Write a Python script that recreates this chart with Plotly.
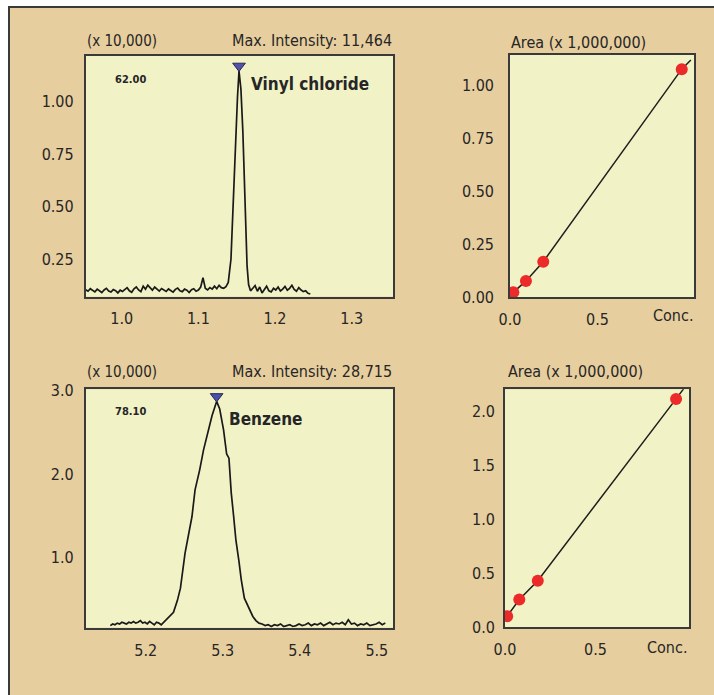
import plotly.graph_objects as go

# ---- Chromatogram: vinyl chloride (m/z 62.00), intensity in units of 10,000 ----
vc_time = [
    0.953, 0.956, 0.959, 0.962, 0.965, 0.968, 0.971, 0.974, 0.977, 0.980,
    0.983, 0.986, 0.989, 0.992, 0.995, 0.998, 1.001, 1.004, 1.007, 1.010,
    1.013, 1.016, 1.019, 1.022, 1.025, 1.028, 1.031, 1.034, 1.037, 1.040,
    1.043, 1.046, 1.049, 1.052, 1.055, 1.058, 1.061, 1.064, 1.067, 1.070,
    1.073, 1.076, 1.079, 1.082, 1.085, 1.088, 1.091, 1.094, 1.097, 1.100,
    1.103, 1.106, 1.109, 1.112, 1.115, 1.118, 1.121, 1.124, 1.127, 1.130,
    1.133, 1.136,
    1.139, 1.1425, 1.1445, 1.1465, 1.149, 1.151, 1.153, 1.1555, 1.158, 1.160,
    1.162, 1.1635, 1.1655, 1.168,
    1.171, 1.174, 1.177, 1.180, 1.183, 1.186, 1.189, 1.192, 1.195, 1.198,
    1.201, 1.204, 1.207, 1.210, 1.213, 1.216, 1.219, 1.222, 1.225, 1.228,
    1.231, 1.234, 1.237, 1.240, 1.243, 1.246,
]
vc_intensity = [
    0.105, 0.098, 0.110, 0.102, 0.095, 0.108, 0.100, 0.092, 0.104, 0.112,
    0.099, 0.094, 0.106, 0.101, 0.090, 0.103, 0.097, 0.108, 0.115, 0.100,
    0.093, 0.110, 0.118, 0.104, 0.096, 0.122, 0.108, 0.127, 0.112, 0.103,
    0.118, 0.106, 0.099, 0.111, 0.104, 0.097, 0.109, 0.102, 0.094, 0.107,
    0.113, 0.100, 0.096, 0.108, 0.103, 0.092, 0.105, 0.110, 0.098, 0.104,
    0.118, 0.162, 0.112, 0.104, 0.115, 0.108, 0.122, 0.110, 0.126, 0.115,
    0.112, 0.120,
    0.140, 0.250, 0.450, 0.620, 0.880, 1.020, 1.1464, 1.060, 0.860, 0.620,
    0.400, 0.220, 0.130, 0.100,
    0.112, 0.125, 0.098, 0.118, 0.090, 0.105, 0.122, 0.100, 0.095, 0.112,
    0.104, 0.118, 0.099, 0.108, 0.121, 0.103, 0.112, 0.126, 0.107, 0.098,
    0.115, 0.104, 0.096, 0.100, 0.088, 0.085,
]

# ---- Chromatogram: benzene (m/z 78.10), intensity in units of 10,000 ----
bz_time = [
    5.154, 5.157, 5.160, 5.163, 5.166, 5.169, 5.172, 5.175, 5.178, 5.181,
    5.184, 5.187, 5.190, 5.193, 5.196, 5.199, 5.202, 5.205, 5.208, 5.211,
    5.214, 5.217, 5.220, 5.223,
    5.227, 5.232, 5.236, 5.241, 5.245, 5.251, 5.256, 5.260, 5.264, 5.270,
    5.275, 5.281, 5.286, 5.292, 5.296, 5.301, 5.305, 5.308, 5.311, 5.314,
    5.317, 5.321, 5.324, 5.328, 5.333, 5.339, 5.343, 5.347,
    5.351, 5.355, 5.359, 5.363, 5.367, 5.371, 5.375, 5.379, 5.383, 5.387,
    5.391, 5.395, 5.399, 5.403, 5.407, 5.411, 5.415, 5.419, 5.423, 5.427,
    5.431, 5.435, 5.439, 5.443, 5.447, 5.451, 5.455, 5.459, 5.463, 5.467,
    5.471, 5.475, 5.479, 5.483, 5.487, 5.491, 5.495, 5.499, 5.503, 5.507,
    5.511,
]
bz_intensity = [
    0.18, 0.20, 0.19, 0.21, 0.20, 0.22, 0.21, 0.20, 0.22, 0.21,
    0.23, 0.21, 0.22, 0.24, 0.21, 0.22, 0.20, 0.23, 0.21, 0.19,
    0.22, 0.21, 0.19, 0.22,
    0.26, 0.30, 0.34, 0.48, 0.63, 1.05, 1.30, 1.49, 1.81, 2.05,
    2.29, 2.52, 2.70, 2.8715, 2.78, 2.53, 2.24, 2.19, 1.77, 1.50,
    1.21, 0.95, 0.73, 0.51, 0.40, 0.29, 0.24, 0.21,
    0.20, 0.18, 0.19, 0.17, 0.19, 0.18, 0.20, 0.17, 0.18, 0.19,
    0.17, 0.18, 0.20, 0.18, 0.19, 0.21, 0.18, 0.20, 0.19, 0.21,
    0.18, 0.20, 0.22, 0.19, 0.21, 0.20, 0.22, 0.19, 0.25, 0.20,
    0.21, 0.18, 0.20, 0.19, 0.21, 0.18, 0.19, 0.20, 0.22, 0.19,
    0.21,
]

# ---- Calibration points: concentration vs. peak area (x 1,000,000) ----
vc_conc = [0.019, 0.091, 0.190, 0.981]
vc_area = [0.022, 0.076, 0.167, 1.077]
vc_line_conc = [0.0] + vc_conc + [1.033]
vc_line_area = [0.0] + vc_area + [1.120]

bz_conc = [0.012, 0.079, 0.181, 0.945]
bz_area = [0.100, 0.255, 0.430, 2.116]
bz_line_conc = [0.0] + bz_conc + [1.000]
bz_line_area = [0.060] + bz_area + [2.240]

FONT = "Liberation Sans Narrow, DejaVu Sans Condensed, Arial Narrow, sans-serif"
TXT = "#262626"
TAN = "#E7CE9E"
PALE = "#F1F2C6"
FRAME = "#3A3A3A"
W, H = 714, 695


def px(x):
    return x / W


def py(y):
    return 1 - y / H


vc_peak_i = vc_intensity.index(max(vc_intensity))
bz_peak_i = bz_intensity.index(max(bz_intensity))

fig = go.Figure()

# chromatograms
fig.add_trace(go.Scatter(x=vc_time, y=vc_intensity, mode="lines",
                         line=dict(color="#1A1A1A", width=1.7), xaxis="x", yaxis="y"))
fig.add_trace(go.Scatter(x=bz_time, y=bz_intensity, mode="lines",
                         line=dict(color="#1A1A1A", width=1.7), xaxis="x3", yaxis="y3"))

# peak-top markers (apex of the triangle sits on the peak)
fig.add_trace(go.Scatter(x=[vc_time[vc_peak_i]], y=[vc_intensity[vc_peak_i] + 5 * (1.2175 - 0.072) / 240.7],
                         mode="markers", marker=dict(symbol="triangle-down", size=11, color="#5550A8",
                                                     line=dict(color="#2A2A50", width=1)),
                         xaxis="x", yaxis="y"))
fig.add_trace(go.Scatter(x=[bz_time[bz_peak_i]], y=[bz_intensity[bz_peak_i] + 5 * (3.017 - 0.155) / 238.4],
                         mode="markers", marker=dict(symbol="triangle-down", size=11, color="#4A50AE",
                                                     line=dict(color="#2A2A50", width=1)),
                         xaxis="x3", yaxis="y3"))

# calibration curves
fig.add_trace(go.Scatter(x=vc_line_conc, y=vc_line_area, mode="lines",
                         line=dict(color="#1E1E1E", width=1.5), xaxis="x2", yaxis="y2"))
fig.add_trace(go.Scatter(x=vc_conc, y=vc_area, mode="markers",
                         marker=dict(size=12, color="#EC2A2A"), xaxis="x2", yaxis="y2"))
fig.add_trace(go.Scatter(x=bz_line_conc, y=bz_line_area, mode="lines",
                         line=dict(color="#1E1E1E", width=1.5), xaxis="x4", yaxis="y4"))
fig.add_trace(go.Scatter(x=bz_conc, y=bz_area, mode="markers",
                         marker=dict(size=12, color="#EC2A2A"), xaxis="x4", yaxis="y4"))

axis_common = dict(showgrid=False, zeroline=False, showline=True, mirror=True, automargin=False,
                   linecolor=FRAME, linewidth=1.6, ticks="outside", tickcolor="rgba(0,0,0,0)",
                   tickfont=dict(family=FONT, size=16, color=TXT), fixedrange=True)

fig.update_layout(
    width=W, height=H,
    margin=dict(l=0, r=0, t=0, b=0, autoexpand=False),
    paper_bgcolor=TAN, plot_bgcolor=PALE,
    showlegend=False,
    xaxis=dict(axis_common, domain=[px(85.7), px(393)], range=[0.953, 1.3539],
               tickvals=[1.0, 1.1, 1.2, 1.3], tickformat=".1f", ticklen=6, anchor="y"),
    yaxis=dict(axis_common, domain=[py(296.7), py(56)], range=[0.072, 1.2175],
               tickvals=[0.25, 0.5, 0.75, 1.0], tickformat=".2f", ticklen=7, anchor="x"),
    xaxis2=dict(axis_common, domain=[px(510), px(694)], range=[0, 1.051],
                tickvals=[0, 0.5], tickformat=".1f", ticklen=7, anchor="y2"),
    yaxis2=dict(axis_common, domain=[py(297), py(55)], range=[0, 1.144],
                tickvals=[0, 0.25, 0.5, 0.75, 1.0], tickformat=".2f", ticklen=11, anchor="x2"),
    xaxis3=dict(axis_common, domain=[px(85.7), px(393)], range=[5.122, 5.521],
                tickvals=[5.2, 5.3, 5.4, 5.5], tickformat=".1f", ticklen=7, anchor="y3"),
    yaxis3=dict(axis_common, domain=[py(627.7), py(389.3)], range=[0.155, 3.017],
                tickvals=[1.0, 2.0, 3.0], tickformat=".1f", ticklen=7, anchor="x3"),
    xaxis4=dict(axis_common, domain=[px(505), px(689.3)], range=[0, 1.018],
                tickvals=[0, 0.5], tickformat=".1f", ticklen=7, anchor="y4"),
    yaxis4=dict(axis_common, domain=[py(627), py(389.3)], range=[0, 2.205],
                tickvals=[0, 0.5, 1.0, 1.5, 2.0], tickformat=".1f", ticklen=5, anchor="x4"),
)

# white margin and the dark frame on top / left
fig.add_shape(type="rect", xref="paper", yref="paper", x0=0, x1=1, y0=py(7), y1=1,
              fillcolor="white", line_width=0, layer="above")
fig.add_shape(type="rect", xref="paper", yref="paper", x0=0, x1=px(9), y0=0, y1=1,
              fillcolor="white", line_width=0, layer="above")
fig.add_shape(type="line", xref="paper", yref="paper", x0=px(8.5), x1=1, y0=py(7), y1=py(7),
              line=dict(color=FRAME, width=2))
fig.add_shape(type="line", xref="paper", yref="paper", x0=px(9), x1=px(9), y0=0, y1=py(6),
              line=dict(color=FRAME, width=2))


def label(text, x, y, xanchor="left", size=16, bold=False):
    fig.add_annotation(text=f"<b>{text}</b>" if bold else text, xref="paper", yref="paper",
                       x=x, y=y, xanchor=xanchor, yanchor="middle", showarrow=False,
                       font=dict(family=FONT, size=size, color=TXT))


vc_max = round(max(vc_intensity) * 10000)
bz_max = round(max(bz_intensity) * 10000)

label("(x 10,000)", px(85), py(41), size=15)
label(f"Max. Intensity: {vc_max:,}", px(394), py(41), xanchor="right")
label("(x 10,000)", px(85), py(371.7), size=15)
label(f"Max. Intensity: {bz_max:,}", px(394), py(371.7), xanchor="right")
label("Area (x 1,000,000)", px(509), py(42.7))
label("Area (x 1,000,000)", px(506), py(371.7))
label("Conc.", px(695), py(315), xanchor="right")
label("Conc.", px(689), py(647), xanchor="right")

label("62.00", px(130), py(79.3), xanchor="center", size=11, bold=True)
label("78.10", px(130), py(411), xanchor="center", size=11, bold=True)
label("Vinyl chloride", px(249), py(84), size=17, bold=True)
label("Benzene", px(227), py(419.3), size=17, bold=True)

fig.write_html("out.html")
